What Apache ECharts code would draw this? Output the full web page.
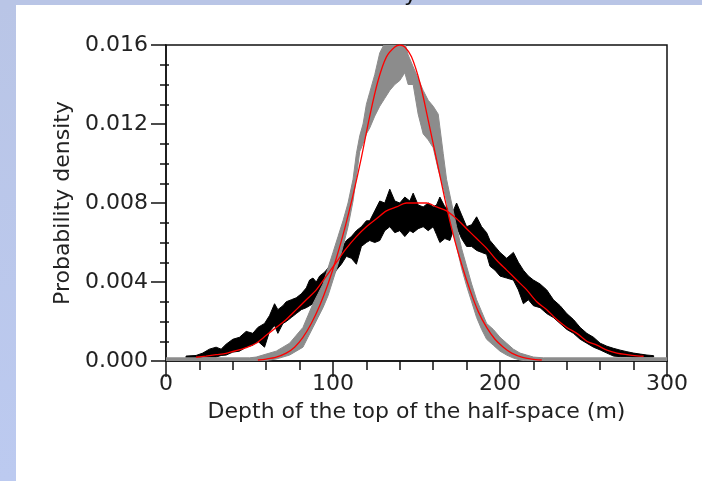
<!DOCTYPE html>
<html>
<head>
<meta charset="utf-8">
<script src="https://cdn.jsdelivr.net/npm/echarts@6/dist/echarts.min.js"></script>
<style>
  html, body { margin: 0; padding: 0; background: #fff; }
  #chart { width: 702px; height: 481px; }
</style>
</head>
<body>
<div id="chart"></div>
<script>
// Depth of the half-space top: sampled posterior (black band), prior-like narrow sample (grey band)
// and the two fitted density curves (red).
const xTicks = [0, 100, 200, 300];
const yTicks = [0.000, 0.004, 0.008, 0.012, 0.016];

// Wide sample: envelope of the noisy histogram trace (depth m, lower, upper)
const wideDepth = [12, 18, 22, 26, 30, 33, 36, 40, 44, 48, 52, 55, 59, 62, 65, 67, 70, 72, 75, 78, 81, 84, 86, 88, 90, 92, 95, 98, 100, 102, 105, 108, 111, 114, 117, 120, 122, 125, 128, 131, 134, 137, 140, 143, 146, 148, 151, 154, 157, 160, 162, 164, 167, 170, 172, 174, 177, 180, 183, 186, 189, 192, 194, 197, 200, 204, 208, 211, 214, 217, 220, 224, 228, 232, 236, 240, 244, 248, 252, 256, 260, 264, 268, 272, 276, 280, 284, 288, 292];
const wideLow = [0.00015, 0.00015, 0.0002, 0.0002, 0.0002, 0.00028, 0.0003, 0.00045, 0.0005, 0.0007, 0.0008, 0.001, 0.0007, 0.0015, 0.0018, 0.0014, 0.0019, 0.002, 0.0022, 0.0024, 0.0026, 0.0027, 0.0028, 0.0029, 0.0029, 0.0034, 0.0037, 0.004, 0.0043, 0.0046, 0.0049, 0.0053, 0.0052, 0.0049, 0.0058, 0.006, 0.0061, 0.006, 0.0061, 0.0066, 0.0068, 0.0065, 0.0066, 0.0063, 0.0066, 0.0065, 0.0067, 0.0068, 0.0066, 0.0068, 0.0064, 0.006, 0.0062, 0.0061, 0.0066, 0.0068, 0.0062, 0.0058, 0.0058, 0.0056, 0.0055, 0.0054, 0.0048, 0.0046, 0.0043, 0.0042, 0.0041, 0.0036, 0.0029, 0.0031, 0.0028, 0.0027, 0.0024, 0.0022, 0.0019, 0.0016, 0.0014, 0.0011, 0.0009, 0.0007, 0.00056, 0.0004, 0.00025, 0.00022, 0.00022, 0.0002, 0.0002, 0.0002, 0.0002];
const wideHigh = [0.00025, 0.00028, 0.0004, 0.0006, 0.0007, 0.0006, 0.00085, 0.0011, 0.0012, 0.0015, 0.0014, 0.0017, 0.0019, 0.0023, 0.0029, 0.0026, 0.0028, 0.003, 0.0031, 0.0032, 0.0034, 0.0037, 0.0041, 0.0042, 0.004, 0.0043, 0.0045, 0.0048, 0.0051, 0.0055, 0.0057, 0.0061, 0.0063, 0.0066, 0.0068, 0.0071, 0.0071, 0.0076, 0.0081, 0.008, 0.0087, 0.0081, 0.008, 0.0083, 0.0081, 0.0085, 0.0079, 0.0078, 0.008, 0.0078, 0.0079, 0.0083, 0.0078, 0.0077, 0.0076, 0.008, 0.0074, 0.0068, 0.0069, 0.0073, 0.0068, 0.0065, 0.0061, 0.0058, 0.0055, 0.0052, 0.0055, 0.005, 0.0046, 0.0043, 0.0041, 0.0039, 0.0036, 0.0031, 0.0028, 0.0024, 0.0021, 0.0017, 0.0014, 0.0012, 0.0009, 0.00075, 0.00064, 0.00055, 0.00047, 0.0004, 0.00035, 0.0003, 0.00027];

// Narrow sample: envelope of the noisy trace (depth m, lower, upper)
const narrowDepth = [0, 50, 54, 58, 62, 66, 70, 74, 78, 82, 85, 88, 91, 94, 97, 100, 103, 106, 109, 112, 114, 116, 118, 120, 122, 125, 128, 131, 134, 137, 140, 143, 145, 148, 151, 154, 157, 160, 163, 166, 168, 171, 174, 177, 180, 183, 186, 189, 192, 196, 200, 204, 208, 212, 216, 220, 226, 300];
const narrowLow = [0, 0, 0, 0, 0.00005, 0.0001, 0.0002, 0.0003, 0.0005, 0.0007, 0.0012, 0.0017, 0.0022, 0.0027, 0.0033, 0.0041, 0.0049, 0.0058, 0.0068, 0.0081, 0.0093, 0.0106, 0.011, 0.0115, 0.0118, 0.0124, 0.0129, 0.0133, 0.0137, 0.014, 0.0142, 0.0146, 0.014, 0.014, 0.0125, 0.0115, 0.0112, 0.0108, 0.0097, 0.0088, 0.0081, 0.0068, 0.0058, 0.0047, 0.0038, 0.003, 0.0022, 0.0016, 0.0011, 0.0008, 0.0005, 0.0003, 0.00015, 0.00005, 0, 0, 0, 0];
const narrowHigh = [0.00016, 0.00016, 0.0002, 0.0003, 0.0004, 0.0005, 0.0007, 0.0009, 0.0013, 0.0017, 0.0023, 0.0029, 0.0034, 0.0039, 0.0047, 0.0055, 0.0063, 0.0071, 0.008, 0.0092, 0.0105, 0.0114, 0.012, 0.013, 0.0136, 0.0145, 0.0156, 0.0161, 0.0161, 0.0161, 0.0161, 0.0161, 0.0155, 0.0149, 0.0143, 0.0137, 0.0132, 0.0129, 0.0125, 0.0105, 0.0092, 0.008, 0.0068, 0.0057, 0.0048, 0.0039, 0.0031, 0.0025, 0.0019, 0.0016, 0.0012, 0.0009, 0.0006, 0.0004, 0.0003, 0.0002, 0.00016, 0.00016];

// Fitted density curves
const wideFitDepth = [18, 24, 30, 36, 42, 48, 54, 60, 66, 72, 78, 84, 90, 96, 102, 108, 114, 120, 126, 132, 138, 144, 150, 156, 162, 168, 174, 180, 186, 192, 198, 204, 210, 216, 222, 228, 234, 240, 246, 252, 258, 264, 270, 276, 282, 286];
const wideFitValue = [0.00019, 0.00025, 0.00032, 0.00039, 0.00052, 0.00068, 0.0009, 0.0013, 0.0017, 0.0021, 0.0026, 0.0031, 0.0036, 0.0043, 0.005, 0.0057, 0.0063, 0.0068, 0.0072, 0.0076, 0.0078, 0.008, 0.008, 0.008, 0.0078, 0.0076, 0.0072, 0.0067, 0.0062, 0.0057, 0.0051, 0.0046, 0.0041, 0.0036, 0.003, 0.0026, 0.0021, 0.0017, 0.0014, 0.001, 0.0008, 0.00055, 0.0004, 0.00032, 0.00026, 0.00024];
const narrowFitDepth = [55, 60, 66, 72, 77, 82, 87, 92, 97, 102, 107, 112, 117, 122, 127, 132, 137, 140, 143, 147, 152, 157, 162, 167, 172, 177, 182, 187, 192, 197, 202, 207, 213, 219, 225];
const narrowFitValue = [0.00005, 0.0001, 0.0002, 0.0004, 0.0007, 0.0012, 0.0019, 0.0028, 0.0039, 0.0052, 0.0067, 0.0084, 0.0103, 0.0124, 0.0142, 0.0154, 0.0159, 0.016, 0.0159, 0.0154, 0.0141, 0.0122, 0.0102, 0.0082, 0.0064, 0.0049, 0.0036, 0.0025, 0.0017, 0.0011, 0.0007, 0.0004, 0.0002, 0.0001, 0.00005];

const FONT = 'DejaVu Sans';
const TEXT = '#222';

function band(name, xs, lo, hi, color, z) {
  return {
    type: 'custom',
    name: name,
    z: z,
    clip: true,
    data: xs.map((x, i) => [x, lo[i], hi[i]]),
    encode: { x: 0, y: [1, 2] },
    renderItem: function (params, api) {
      if (params.dataIndex !== 0) return null;
      const pts = [];
      for (let i = 0; i < xs.length; i++) pts.push(api.coord([xs[i], hi[i]]));
      for (let i = xs.length - 1; i >= 0; i--) pts.push(api.coord([xs[i], lo[i]]));
      return {
        type: 'polygon',
        shape: { points: pts },
        style: { fill: color, stroke: color, lineWidth: 1 }
      };
    }
  };
}

function fit(name, xs, ys, z) {
  return {
    type: 'line',
    name: name,
    z: z,
    data: xs.map((x, i) => [x, ys[i]]),
    showSymbol: false,
    smooth: 0.3,
    lineStyle: { color: '#ff0000', width: 1.3 },
    silent: true
  };
}

const chart = echarts.init(document.getElementById('chart'), null, { renderer: 'canvas' });
chart.setOption({
  animation: false,
  backgroundColor: '#ffffff',
  textStyle: { fontFamily: FONT },
  graphic: [
    { type: 'rect', left: 0, top: 0, shape: { width: 16, height: 481 },
      style: { fill: new echarts.graphic.LinearGradient(0, 0, 0, 1, [
        { offset: 0, color: '#b9c5e6' }, { offset: 1, color: '#bccaf0' }]) }, z: 100 },
    { type: 'rect', left: 0, top: 0, shape: { width: 702, height: 5 },
      style: { fill: '#b9c5e6' }, z: 100 },
    { type: 'text', x: 404, y: 6, z: 101,
      style: { text: 'y', font: '22px "DejaVu Sans"', fill: '#111', verticalAlign: 'bottom' } }
  ],
  grid: {
    left: 166, right: 35, top: 45, bottom: 120,
    show: true, borderColor: '#111', borderWidth: 1.5, backgroundColor: 'transparent'
  },
  xAxis: {
    type: 'value', min: 0, max: 300, interval: 100,
    name: 'Depth of the top of the half-space (m)',
    nameLocation: 'middle', nameGap: 40,
    nameTextStyle: { fontFamily: FONT, fontSize: 22, color: TEXT },
    axisLine: { show: true, onZero: false, lineStyle: { color: '#111', width: 1.5 } },
    axisTick: { show: true, length: 16, lineStyle: { color: '#111', width: 1.5 } },
    minorTick: { show: true, splitNumber: 5, length: 9, lineStyle: { color: '#111', width: 1.5 } },
    splitLine: { show: false },
    axisLabel: { fontFamily: FONT, fontSize: 22, color: TEXT, margin: 12,
      customValues: xTicks, formatter: v => String(v) }
  },
  yAxis: [{
    type: 'value', min: 0, max: 0.016, interval: 0.004,
    name: 'Probability density',
    nameLocation: 'middle', nameGap: 82, nameRotate: 90,
    nameTextStyle: { fontFamily: FONT, fontSize: 22, color: TEXT },
    axisLine: { show: true, onZero: false, lineStyle: { color: '#111', width: 1.5 } },
    axisTick: { show: true, length: 15, lineStyle: { color: '#111', width: 1.5 } },
    minorTick: { show: true, splitNumber: 4, length: 6, lineStyle: { color: '#111', width: 1.5 } },
    splitLine: { show: false },
    axisLabel: { fontFamily: FONT, fontSize: 22, color: TEXT, margin: 18,
      formatter: v => v.toFixed(3) }
  }, {
    type: 'value', min: 0, max: 0.016, interval: 0.004, position: 'left',
    axisLine: { show: false },
    axisTick: { show: false, inside: true },
    minorTick: { show: true, splitNumber: 4, length: 3, lineStyle: { color: '#111', width: 1.5 } },
    splitLine: { show: false },
    axisLabel: { show: false }
  }],
  series: [
    band('wide sample', wideDepth, wideLow, wideHigh, '#000000', 2),
    band('narrow sample', narrowDepth, narrowLow, narrowHigh, '#8c8c8c', 3),
    fit('wide fit', wideFitDepth, wideFitValue, 4),
    fit('narrow fit', narrowFitDepth, narrowFitValue, 4)
  ]
});
</script>
</body>
</html>
